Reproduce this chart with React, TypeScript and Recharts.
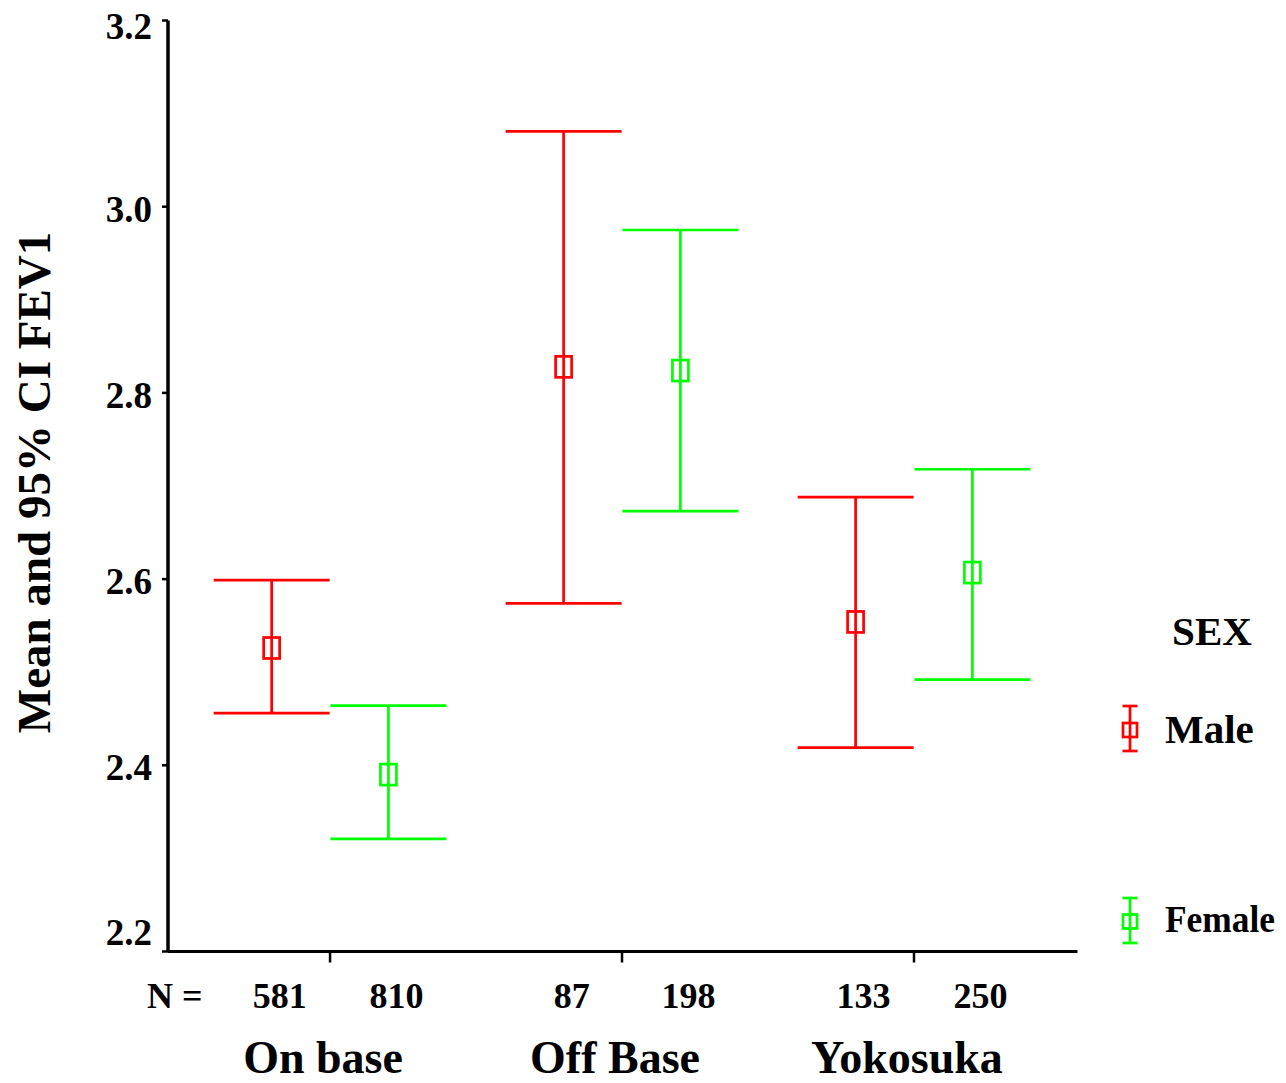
import React from 'react';
import { ScatterChart, Scatter, XAxis, YAxis, ErrorBar, Legend } from 'recharts';

const groups = ['On base', 'Off Base', 'Yokosuka'];
const maleN = [581, 87, 133];
const femaleN = [810, 198, 250];
const maleMean = [2.526, 2.828, 2.554];
const maleLow = [2.456, 2.574, 2.419];
const maleHigh = [2.599, 3.081, 2.688];
const femaleMean = [2.390, 2.824, 2.607];
const femaleLow = [2.321, 2.673, 2.492];
const femaleHigh = [2.464, 2.975, 2.718];
const yTicks = [2.2, 2.4, 2.6, 2.8, 3.0, 3.2];
const nPrefix = 'N =';
const yTitle = 'Mean and 95% CI FEV1';
const legendTitle = 'SEX';

const FONT = '"Liberation Serif", "Times New Roman", Times, serif';
const RED = '#ff0000';
const GREEN = '#00ff00';
const X_MIN = 0.445;
const X_MAX = 3.56;
const OFFSET = 0.2;
const LW = 2.7;

const series = [
  { name: 'Male', color: RED, mean: maleMean, low: maleLow, high: maleHigh, n: maleN, shift: -OFFSET },
  { name: 'Female', color: GREEN, mean: femaleMean, low: femaleLow, high: femaleHigh, n: femaleN, shift: OFFSET },
];

const seriesData = series.map((s) =>
  groups.map((g, i) => ({
    x: i + 1 + s.shift,
    y: s.mean[i],
    err: [s.mean[i] - s.low[i], s.high[i] - s.mean[i]],
  }))
);

type XT = { value: number; kind: 'prefix' | 'group' | 'n'; label: string };
const xTicks: XT[] = [{ value: X_MIN, kind: 'prefix', label: nPrefix }];
groups.forEach((g, i) => {
  series.forEach((s) => {
    if (s.shift < 0) xTicks.push({ value: i + 1 + s.shift, kind: 'n', label: String(s.n[i]) });
  });
  xTicks.push({ value: i + 1, kind: 'group', label: g });
  series.forEach((s) => {
    if (s.shift > 0) xTicks.push({ value: i + 1 + s.shift, kind: 'n', label: String(s.n[i]) });
  });
});

const XTick = (props: any) => {
  const { x, y, payload } = props;
  const t = xTicks.find((d) => Math.abs(d.value - payload.value) < 1e-6);
  if (!t) return null;
  if (t.kind === 'group') {
    return (
      <g>
        <line x1={x} y1={y} x2={x} y2={y + 11} stroke="#000" strokeWidth={2.5} />
        <text x={x - 7} y={y + 121} textAnchor="middle" fontFamily={FONT} fontWeight="bold" fontSize={46} fill="#000">
          {t.label}
        </text>
      </g>
    );
  }
  if (t.kind === 'n') {
    return (
      <text x={x + 8} y={y + 56.5} textAnchor="middle" fontFamily={FONT} fontWeight="bold" fontSize={36} fill="#000">
        {t.label}
      </text>
    );
  }
  return (
    <text x={x - 21} y={y + 56.5} textAnchor="start" fontFamily={FONT} fontWeight="bold" fontSize={36} fill="#000">
      {t.label}
    </text>
  );
};

const YTick = (props: any) => {
  const { x, y, payload } = props;
  const v = payload.value;
  let dy = 15;
  if (Math.abs(v - yTicks[yTicks.length - 1]) < 1e-9) dy = 18;
  if (Math.abs(v - yTicks[0]) < 1e-9) dy = -6.5;
  return (
    <text x={x} y={y + dy} textAnchor="end" fontFamily={FONT} fontWeight="bold" fontSize={37} fill="#000">
      {Number(v).toFixed(1)}
    </text>
  );
};

const YTitle = () => {
  const cx = 50;
  const cy = 482.5;
  return (
    <text
      x={cx}
      y={cy}
      transform={`rotate(-90 ${cx} ${cy})`}
      textAnchor="middle"
      fontFamily={FONT}
      fontWeight="bold"
      fontSize={47}
      fill="#000"
    >
      {yTitle}
    </text>
  );
};

const makeShape = (color: string) => (props: any) => {
  const { cx, cy } = props;
  if (cx == null || cy == null) return null;
  return <rect x={cx - 8} y={cy - 10.5} width={16} height={21} fill="none" stroke={color} strokeWidth={LW} />;
};

const LegendContent = () => {
  const rows = [
    { top: 106, bottom: 151, sq: 130, base: 143 },
    { top: 298, bottom: 343, sq: 321.5, base: 332 },
  ];
  return (
    <svg width={186} height={360} style={{ display: 'block', overflow: 'visible' }}>
      <text x={112} y={45} textAnchor="middle" fontFamily={FONT} fontWeight="bold" fontSize={41} fill="#000">
        {legendTitle}
      </text>
      {series.map((s, i) => {
        const r = rows[i];
        return (
          <g key={s.name}>
            <line x1={30} y1={r.top} x2={30} y2={r.bottom} stroke={s.color} strokeWidth={LW} />
            <line x1={22.5} y1={r.top} x2={37.5} y2={r.top} stroke={s.color} strokeWidth={LW} />
            <line x1={22.5} y1={r.bottom} x2={37.5} y2={r.bottom} stroke={s.color} strokeWidth={LW} />
            <rect x={23} y={r.sq - 7} width={14} height={14} fill="none" stroke={s.color} strokeWidth={LW} />
            <text
              x={65}
              y={r.base}
              textAnchor="start"
              fontFamily={FONT}
              fontWeight="bold"
              fontSize={s.name === 'Female' ? 38 : 41}
              fill="#000"
              {...(s.name === 'Female' ? { textLength: 110, lengthAdjust: 'spacingAndGlyphs' } : {})}
            >
              {s.name}
            </text>
          </g>
        );
      })}
    </svg>
  );
};

export default function App() {
  return (
    <div style={{ position: 'absolute', left: 0, top: 0, width: 1286, height: 1083, background: '#fff' }}>
      <ScatterChart width={1286} height={1083} margin={{ top: 20.5, right: 208.5, bottom: 0, left: 0 }}>
        <XAxis
          dataKey="x"
          type="number"
          domain={[X_MIN, X_MAX]}
          allowDataOverflow
          ticks={xTicks.map((t) => t.value)}
          interval={0}
          tick={<XTick />}
          tickLine={false}
          tickSize={0}
          tickMargin={0}
          height={131.5}
          axisLine={{ stroke: '#000', strokeWidth: 3 }}
        />
        <XAxis
          xAxisId="top"
          orientation="top"
          type="number"
          domain={[X_MIN, X_MAX]}
          allowDataOverflow
          tick={false}
          tickLine={false}
          height={0}
          axisLine={{ stroke: '#000', strokeWidth: 3 }}
        />
        <YAxis
          dataKey="y"
          type="number"
          domain={[2.2, 3.2]}
          allowDataOverflow
          ticks={yTicks}
          interval={0}
          width={168}
          tickSize={6}
          tickMargin={10}
          tick={<YTick />}
          tickLine={{ stroke: '#000', strokeWidth: 2.5 }}
          axisLine={{ stroke: '#000', strokeWidth: 3.5 }}
          label={<YTitle />}
        />
        <YAxis
          yAxisId="right"
          orientation="right"
          type="number"
          domain={[2.2, 3.2]}
          allowDataOverflow
          width={0}
          tick={false}
          tickLine={false}
          axisLine={{ stroke: '#000', strokeWidth: 3 }}
        />
        <Legend
          content={<LegendContent />}
          wrapperStyle={{ position: 'absolute', left: 1100, top: 600, width: 0, height: 0, overflow: 'visible' }}
        />
        {series.map((s, i) => (
          <Scatter
            key={s.name}
            name={s.name}
            data={seriesData[i]}
            fill={s.color}
            stroke={s.color}
            shape={makeShape(s.color)}
            isAnimationActive={false}
          >
            <ErrorBar dataKey="err" direction="y" width={58} stroke={s.color} strokeWidth={LW} isAnimationActive={false} />
          </Scatter>
        ))}
      </ScatterChart>
    </div>
  );
}
